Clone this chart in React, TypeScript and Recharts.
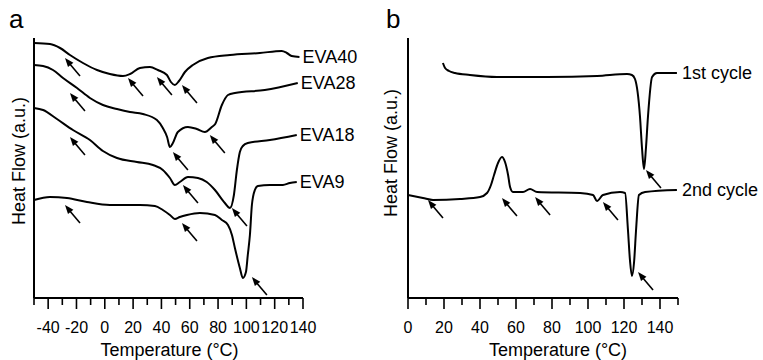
import React from "react";
import { ComposedChart, Line, Scatter, XAxis, YAxis } from "recharts";

type Pt = { t: number; v: number };

// panel a - DSC curves (heat flow in arbitrary units, endo down)
const eva40: Pt[] = [
  { t: -50, v: 255 }, { t: -38.7, v: 254 }, { t: -31.6, v: 250 }, { t: -24.6, v: 243 },
  { t: -15.4, v: 235 }, { t: -5.5, v: 228 }, { t: 3.6, v: 224 }, { t: 12.8, v: 222 },
  { t: 17.8, v: 224 }, { t: 24.8, v: 230 }, { t: 31.9, v: 231 }, { t: 37.5, v: 228 },
  { t: 43.9, v: 223 }, { t: 46.7, v: 216 }, { t: 49.5, v: 213 }, { t: 52.4, v: 217 },
  { t: 56.6, v: 226 }, { t: 62.2, v: 233 }, { t: 72.8, v: 240 }, { t: 88.4, v: 243 },
  { t: 109.5, v: 245 }, { t: 125, v: 247 }, { t: 128.6, v: 245 }, { t: 132, v: 242 },
  { t: 137.5, v: 241 },
];
const eva28: Pt[] = [
  { t: -50, v: 233 }, { t: -43.6, v: 232 }, { t: -36.6, v: 228 }, { t: -29.5, v: 220 },
  { t: -19.6, v: 210 }, { t: -10.5, v: 200 }, { t: -1.3, v: 193 }, { t: 8.6, v: 189 },
  { t: 17.8, v: 186 }, { t: 26.9, v: 184 }, { t: 36.8, v: 178 }, { t: 41, v: 170 },
  { t: 44, v: 161 }, { t: 46, v: 151 }, { t: 48.1, v: 155 }, { t: 51.6, v: 166 },
  { t: 58.7, v: 171 }, { t: 65, v: 169 }, { t: 70.7, v: 166 }, { t: 75.6, v: 171 },
  { t: 78, v: 174 }, { t: 82.7, v: 193 }, { t: 87, v: 203 }, { t: 91.9, v: 205 },
  { t: 113, v: 208 }, { t: 136.3, v: 215 },
];
const eva18: Pt[] = [
  { t: -50, v: 190 }, { t: -43.6, v: 188 }, { t: -33.8, v: 179 }, { t: -22.5, v: 168 },
  { t: -10.5, v: 158 }, { t: -1.3, v: 147 }, { t: 8.6, v: 140 }, { t: 22.7, v: 136 },
  { t: 34, v: 133 }, { t: 41, v: 128 }, { t: 46, v: 120 }, { t: 49.5, v: 113 },
  { t: 53, v: 116 }, { t: 58.7, v: 121 }, { t: 65.8, v: 120 }, { t: 72, v: 116 },
  { t: 77.8, v: 108 }, { t: 84.8, v: 95 }, { t: 88.4, v: 90 }, { t: 91.2, v: 103 },
  { t: 93.3, v: 128 }, { t: 95.4, v: 146 }, { t: 97.5, v: 152 }, { t: 101, v: 155 },
  { t: 116.6, v: 158 }, { t: 135.6, v: 163 },
];
const eva9: Pt[] = [
  { t: -50, v: 98 }, { t: -38.7, v: 101 }, { t: -26.7, v: 100 }, { t: -12.6, v: 96 },
  { t: 3.6, v: 93 }, { t: 24.8, v: 93 }, { t: 35.4, v: 92 }, { t: 41, v: 88 },
  { t: 46, v: 83 }, { t: 49.5, v: 79 }, { t: 53, v: 81 }, { t: 58, v: 83 },
  { t: 67.2, v: 85 }, { t: 77.8, v: 83 }, { t: 82.7, v: 78 }, { t: 87, v: 73 },
  { t: 89.8, v: 63 }, { t: 91.9, v: 50 }, { t: 95.4, v: 30 }, { t: 97.5, v: 20 },
  { t: 99.7, v: 26 }, { t: 101, v: 43 }, { t: 102.5, v: 63 }, { t: 103.9, v: 93 },
  { t: 106, v: 108 }, { t: 108.1, v: 112 }, { t: 116.6, v: 113 }, { t: 125.8, v: 113 },
  { t: 130.7, v: 115 }, { t: 135.6, v: 116 },
];
const arrowsA: Pt[] = [
  { t: -28.1, v: 240 }, { t: 16.4, v: 220 }, { t: 36.8, v: 221 }, { t: 54.5, v: 213 },
  { t: -24.6, v: 205 }, { t: 48.1, v: 146 }, { t: 74.2, v: 163 },
  { t: -24.6, v: 161 }, { t: 55.2, v: 113 }, { t: 89.8, v: 90 },
  { t: -28.1, v: 93 }, { t: 54.5, v: 75 }, { t: 103.9, v: 21 },
];

// panel b - first and second heating cycle
const cycle1: Pt[] = [
  { t: 19.4, v: 235 }, { t: 20.6, v: 230 }, { t: 22.8, v: 227 }, { t: 26.1, v: 225 },
  { t: 34.4, v: 223 }, { t: 49.4, v: 221 }, { t: 77.2, v: 221 }, { t: 105, v: 222 },
  { t: 121.7, v: 224 }, { t: 124.4, v: 223 }, { t: 126.1, v: 219 }, { t: 128.9, v: 181 },
  { t: 130, v: 150 }, { t: 131.1, v: 129 }, { t: 132.2, v: 150 }, { t: 133.3, v: 181 },
  { t: 135.6, v: 221 }, { t: 138.3, v: 225 }, { t: 149.4, v: 225 },
];
const cycle2: Pt[] = [
  { t: 0, v: 103 }, { t: 8.3, v: 100 }, { t: 13.9, v: 98 }, { t: 28.9, v: 99 },
  { t: 40, v: 101 }, { t: 43.9, v: 105 }, { t: 46.1, v: 113 }, { t: 47.8, v: 123 },
  { t: 50, v: 135 }, { t: 52.2, v: 141 }, { t: 53.9, v: 136 }, { t: 55.6, v: 123 },
  { t: 56.7, v: 111 }, { t: 58.3, v: 106 }, { t: 63.9, v: 106 }, { t: 67.8, v: 109 },
  { t: 71.7, v: 106 }, { t: 95.6, v: 105 }, { t: 102.8, v: 103 }, { t: 105, v: 97 },
  { t: 108.3, v: 103 }, { t: 117.8, v: 106 }, { t: 120.6, v: 105 }, { t: 122.2, v: 68 },
  { t: 123.3, v: 38 }, { t: 124.4, v: 22 }, { t: 125.6, v: 36 }, { t: 126.7, v: 68 },
  { t: 128.3, v: 103 }, { t: 131.7, v: 106 }, { t: 149.4, v: 108 },
];
const arrowsB: Pt[] = [
  { t: 11.1, v: 98 }, { t: 52.2, v: 100 }, { t: 70.6, v: 101 }, { t: 108.3, v: 96 },
  { t: 127.8, v: 26 }, { t: 132.2, v: 128 },
];

const ticksA = [-50, -40, -30, -20, -10, 0, 10, 20, 30, 40, 50, 60, 70, 80, 90, 100, 110, 120, 130, 140];
const labelsA = [-40, -20, 0, 20, 40, 60, 80, 100, 120, 140];
const ticksB = [0, 10, 20, 30, 40, 50, 60, 70, 80, 90, 100, 110, 120, 130, 140, 150];
const labelsB = [0, 20, 40, 60, 80, 100, 120, 140];

const seriesA = [
  { name: "EVA40", data: eva40 },
  { name: "EVA28", data: eva28 },
  { name: "EVA18", data: eva18 },
  { name: "EVA9", data: eva9 },
];
const seriesB = [
  { name: "1st cycle", data: cycle1 },
  { name: "2nd cycle", data: cycle2 },
];

const makeTick = (labeled: number[]) => (p: any) => {
  const { x, y, payload } = p;
  const major = labeled.includes(payload.value);
  return (
    <g>
      <line x1={x} x2={x} y1={y} y2={y + (major ? 11 : 7)} stroke="#000" strokeWidth={1.6} />
      {major && (
        <text x={x} y={y + 35} textAnchor="middle" fontSize={16} fill="#000">
          {payload.value}
        </text>
      )}
    </g>
  );
};

const xTitle = (dx: number) => (p: any) => {
  const vb = p.viewBox;
  return (
    <text x={vb.x + vb.width / 2 + dx} y={vb.y + 58} textAnchor="middle" fontSize={18} fill="#000">
      Temperature (°C)
    </text>
  );
};

const yTitle = (dx: number, dy: number) => (p: any) => {
  const vb = p.viewBox;
  const x = vb.x + dx;
  const y = vb.y + vb.height / 2 + dy;
  return (
    <text transform={`translate(${x},${y}) rotate(-90)`} textAnchor="middle" fontSize={18} fill="#000">
      Heat Flow (a.u.)
    </text>
  );
};

const endLabel = (name: string, last: number, dx: number) => (p: any) =>
  p.index === last ? (
    <text x={p.x + dx} y={p.y + 6} fontSize={18} fill="#000">
      {name}
    </text>
  ) : null;

// small arrow whose tip sits on the data point, tail to the lower right
const Arrow = (p: any) => {
  const { cx, cy } = p;
  return (
    <g>
      <line x1={cx + 4} y1={cy + 5} x2={cx + 15} y2={cy + 18} stroke="#000" strokeWidth={1.6} />
      <polygon points={`${cx},${cy} ${cx + 8.4},${cy + 4.7} ${cx + 3},${cy + 9.1}`} fill="#000" />
    </g>
  );
};

const App = () => {
  return (
    <div
      style={{
        position: "absolute",
        left: 0,
        top: 0,
        width: 763,
        height: 360,
        background: "#fff",
        fontFamily: "'Liberation Sans', Arial, sans-serif",
      }}
    >
      <div style={{ position: "absolute", left: 0, top: 0 }}>
        <ComposedChart width={380} height={360} margin={{ top: 38, right: 77, bottom: 32, left: 24 }}>
          <XAxis
            type="number"
            dataKey="t"
            domain={[-50, 140]}
            ticks={ticksA}
            interval={0}
            tickSize={0}
            tickMargin={0}
            tickLine={false}
            tick={makeTick(labelsA)}
            axisLine={{ stroke: "#000", strokeWidth: 2 }}
            height={30}
            label={{ content: xTitle(1) }}
          />
          <YAxis
            type="number"
            dataKey="v"
            domain={[0, 260]}
            width={10}
            tick={false}
            tickLine={false}
            axisLine={{ stroke: "#000", strokeWidth: 2 }}
            label={{ content: yTitle(1, -7) }}
          />
          {seriesA.map((s) => (
            <Line
              key={s.name}
              data={s.data}
              dataKey="v"
              type="monotone"
              stroke="#000"
              strokeWidth={2}
              dot={false}
              isAnimationActive={false}
              label={endLabel(s.name, s.data.length - 1, 3)}
            />
          ))}
          <Scatter data={arrowsA} dataKey="v" shape={Arrow} isAnimationActive={false} />
        </ComposedChart>
      </div>
      <div style={{ position: "absolute", left: 380, top: 0 }}>
        <ComposedChart width={383} height={360} margin={{ top: 38, right: 85, bottom: 32, left: 18 }}>
          <XAxis
            type="number"
            dataKey="t"
            domain={[0, 150]}
            ticks={ticksB}
            interval={0}
            tickSize={0}
            tickMargin={0}
            tickLine={false}
            tick={makeTick(labelsB)}
            axisLine={{ stroke: "#000", strokeWidth: 2 }}
            height={30}
            label={{ content: xTitle(15) }}
          />
          <YAxis
            type="number"
            dataKey="v"
            domain={[0, 260]}
            width={10}
            tick={false}
            tickLine={false}
            axisLine={{ stroke: "#000", strokeWidth: 2 }}
            label={{ content: yTitle(-1, -15) }}
          />
          {seriesB.map((s) => (
            <Line
              key={s.name}
              data={s.data}
              dataKey="v"
              type="monotone"
              stroke="#000"
              strokeWidth={2}
              dot={false}
              isAnimationActive={false}
              label={endLabel(s.name, s.data.length - 1, 5)}
            />
          ))}
          <Scatter data={arrowsB} dataKey="v" shape={Arrow} isAnimationActive={false} />
        </ComposedChart>
      </div>
      <div style={{ position: "absolute", left: 9, top: 6, fontSize: 26, lineHeight: "26px" }}>a</div>
      <div style={{ position: "absolute", left: 386, top: 6, fontSize: 26, lineHeight: "26px" }}>b</div>
    </div>
  );
};

export default App;
